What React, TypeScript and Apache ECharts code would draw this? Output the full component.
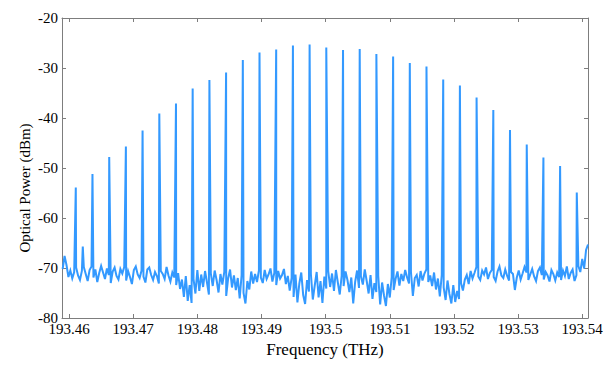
import React, { useEffect, useRef } from "react";
import * as echarts from "echarts";

// Tick labels
const xTicks = [193.46, 193.47, 193.48, 193.49, 193.5, 193.51, 193.52, 193.53, 193.54];
const yTicks = [-80, -70, -60, -50, -40, -30, -20];

// Comb lines (THz) and their peak powers (dBm)
const peakFreqs = [
  193.46105, 193.46365, 193.46626, 193.46886, 193.47146, 193.47407, 193.47667, 193.47927,
  193.48188, 193.48448, 193.48709, 193.48969, 193.49229, 193.4949, 193.4975, 193.5001,
  193.50271, 193.50531, 193.50791, 193.51052, 193.51312, 193.51572, 193.51833, 193.52093,
  193.52353, 193.52614, 193.52874, 193.53135, 193.53395, 193.53655, 193.53915,
];
const peakPowers = [
  -53.9, -51.2, -47.8, -45.7, -42.5, -39.1, -37.1, -34.1, -32.4, -30.9, -28.4, -26.9,
  -26.3, -25.5, -25.3, -25.9, -26.4, -26.2, -27.2, -27.7, -29.0, -29.7, -32.3, -33.5,
  -35.9, -38.4, -42.4, -45.3, -47.9, -49.6, -54.9,
];
// small side spur
const spurFreqs = [193.46214];
const spurPowers = [-65.7];

// Noise floor, sampled every 0.0003 THz from 193.4590 THz
const noiseStart = 193.459;
const noiseStep = 0.0003;
const noise = [
  -70.2, -67.6, -69.4, -71.8, -70.5, -72.1, -70.8, -69.9, -71.5, -72.4,
  -70.6, -69.8, -71.2, -72.6, -70.4, -69.7, -71.9, -70.3, -72.8, -71.0,
  -69.6, -70.9, -72.2, -70.1, -71.4, -73.0, -70.7, -69.9, -71.6, -72.3,
  -70.2, -71.1, -69.8, -72.5, -70.6, -71.8, -73.2, -70.4, -69.7, -71.3,
  -72.0, -70.5, -71.7, -72.9, -70.3, -69.9, -71.4, -72.4, -70.8, -71.6,
  -73.1, -70.6, -71.2, -72.2, -69.8, -71.5, -72.7, -70.9, -71.9, -73.4,
  -71.0, -74.2, -72.3, -75.8, -71.6, -76.6, -73.4, -77.0, -72.2, -75.1,
  -70.4, -74.6, -71.3, -73.8, -70.6, -72.9, -75.3, -71.1, -73.6, -70.5,
  -72.4, -74.9, -71.2, -73.3, -70.8, -75.6, -72.1, -70.3, -73.9, -71.5,
  -74.4, -72.0, -76.1, -71.4, -75.0, -77.1, -72.6, -74.3, -70.7, -73.1,
  -71.2, -72.8, -70.5, -71.9, -73.0, -70.4, -72.2, -71.3, -70.1, -72.7,
  -71.0, -73.4, -70.6, -72.1, -71.4, -70.2, -73.2, -71.6, -74.5, -72.0,
  -75.8, -71.3, -76.9, -73.1, -70.9, -75.4, -77.2, -72.4, -74.7, -71.2,
  -76.3, -73.5, -70.8, -75.9, -72.6, -77.0, -71.7, -74.1, -70.6, -73.8,
  -71.1, -74.6, -70.4, -72.9, -75.3, -71.5, -73.6, -70.7, -72.4, -74.8,
  -71.9, -77.1, -72.8, -70.5, -74.0, -71.7, -73.3, -70.3, -72.6, -75.1,
  -71.4, -76.2, -73.0, -74.8, -71.6, -77.3, -72.9, -75.5, -77.6, -73.2,
  -75.9, -71.8, -74.4, -72.2, -70.7, -73.5, -71.2, -72.6, -70.4, -71.9,
  -73.1, -70.8, -75.6, -72.0, -71.4, -73.7, -70.6, -72.5, -71.1, -70.3,
  -72.8, -71.5, -73.6, -70.9, -74.3, -72.1, -75.7, -71.4, -73.9, -76.4,
  -72.5, -75.2, -77.1, -73.4, -76.8, -74.6, -76.2, -73.0, -74.5, -72.3,
  -71.4, -73.2, -70.6, -72.1, -71.0, -69.8, -71.7, -72.4, -70.5, -71.3,
  -69.9, -72.2, -71.0, -70.4, -71.8, -72.6, -70.7, -69.7, -71.5, -72.0,
  -70.3, -71.6, -72.5, -70.8, -71.2, -74.4, -71.9, -70.5, -72.3, -71.1,
  -69.8, -70.9, -72.4, -71.3, -70.2, -71.7, -72.6, -70.6, -69.9, -71.4,
  -72.3, -70.8, -71.5, -72.7, -70.4, -71.2, -72.5, -70.9, -71.8, -72.4,
  -70.5, -71.6, -69.7, -72.2, -71.0, -70.3, -72.6, -71.4, -69.6, -70.8,
  -68.2, -70.1, -66.4, -65.3,
];

const X_MIN = 193.4589;
const X_MAX = 193.5409;

function buildSpectrum(): [number, number][] {
  const pts: [number, number][] = noise.map((v, i) => [noiseStart + i * noiseStep, v]);
  peakFreqs.forEach((f, i) => pts.push([f, peakPowers[i]]));
  spurFreqs.forEach((f, i) => pts.push([f, spurPowers[i]]));
  pts.sort((a, b) => a[0] - b[0]);
  return pts;
}

const FONT = "Liberation Serif";
const AXIS_COLOR = "#7d7d7d";

export default function App() {
  const ref = useRef<HTMLDivElement>(null);
  useEffect(() => {
    if (!ref.current) return;
    const chart = echarts.init(ref.current, undefined, { renderer: "svg" });
    const tickStyle = { show: true, inside: true, length: 4, lineStyle: { color: AXIS_COLOR } };
    chart.setOption({
      animation: false,
      backgroundColor: "#ffffff",
      textStyle: { fontFamily: FONT },
      grid: { left: 62, right: 20, top: 18, bottom: 49, containLabel: false },
      graphic: [
        {
          type: "text",
          x: 25,
          y: 188,
          rotation: Math.PI / 2,
          style: {
            text: "Optical Power (dBm)",
            font: "15px Liberation Serif",
            fill: "#000",
            align: "center",
            verticalAlign: "middle",
          },
        },
      ],
      xAxis: [
        {
          type: "value",
          min: X_MIN,
          max: X_MAX,
          position: "bottom",
          name: "Frequency (THz)",
          nameLocation: "middle",
          nameGap: 22,
          nameTextStyle: { fontFamily: FONT, fontSize: 17, color: "#000" },
          axisLine: { show: true, lineStyle: { color: AXIS_COLOR, width: 1 } },
          axisTick: { ...tickStyle, customValues: xTicks },
          axisLabel: {
            customValues: xTicks,
            fontFamily: FONT,
            fontSize: 15,
            color: "#000",
            margin: 3,
            formatter: (v: number) => String(Number(v.toFixed(4))),
          },
          splitLine: { show: false },
        },
        {
          type: "value",
          min: X_MIN,
          max: X_MAX,
          position: "top",
          axisLine: { show: true, lineStyle: { color: AXIS_COLOR, width: 1 } },
          axisTick: { ...tickStyle, customValues: xTicks },
          axisLabel: { show: false },
          splitLine: { show: false },
        },
      ],
      yAxis: [
        {
          type: "value",
          min: -80,
          max: -20,
          interval: 10,
          position: "left",
          axisLine: { show: true, lineStyle: { color: AXIS_COLOR, width: 1 } },
          axisTick: tickStyle,
          axisLabel: { fontFamily: FONT, fontSize: 15, color: "#000", margin: 4 },
          splitLine: { show: false },
        },
        {
          type: "value",
          min: -80,
          max: -20,
          interval: 10,
          position: "right",
          axisLine: { show: true, lineStyle: { color: AXIS_COLOR, width: 1 } },
          axisTick: tickStyle,
          axisLabel: { show: false },
          splitLine: { show: false },
        },
      ],
      series: [
        {
          type: "line",
          data: buildSpectrum(),
          xAxisIndex: 0,
          yAxisIndex: 0,
          showSymbol: false,
          symbol: "none",
          lineStyle: { color: "#3399ff", width: 2, join: "miter" },
          clip: true,
        },
      ],
    });
    return () => chart.dispose();
  }, []);
  return (
    <div
      ref={ref}
      style={{ position: "absolute", left: 0, top: 0, width: 608, height: 367 }}
    />
  );
}
